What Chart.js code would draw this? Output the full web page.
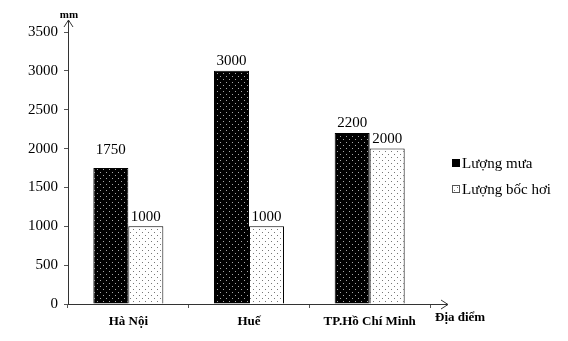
<!DOCTYPE html>
<html><head><meta charset="utf-8">
<script src="https://cdn.jsdelivr.net/npm/chart.js@4/dist/chart.umd.min.js"></script>
<style>html,body{margin:0;padding:0;background:#fff}#wrap{width:568px;height:341px}</style>
</head><body><div id="wrap"><canvas id="c" width="568" height="341"></canvas></div>
<script>
const categories = ["Hà Nội", "Huế", "TP.Hồ Chí Minh"];
const rainfall = [1750, 3000, 2200];
const evaporation = [1000, 1000, 2000];
const seriesNames = ["Lượng mưa", "Lượng bốc hơi"];
const yTicks = [0, 500, 1000, 1500, 2000, 2500, 3000, 3500];
const yUnit = "mm";
const xTitle = "Địa điểm";

function makePattern(bg, dot) {
  const p = document.createElement('canvas');
  p.width = 6; p.height = 6;
  const g = p.getContext('2d');
  g.fillStyle = bg; g.fillRect(0, 0, 6, 6);
  g.fillStyle = dot;
  g.fillRect(1, 1, 1, 1);
  g.fillRect(4, 4, 1, 1);
  return g.createPattern(p, 'repeat');
}
const ctx0 = document.getElementById('c').getContext('2d');
const blackPat = makePattern('#000', '#a8a8a8');
const whitePat = makePattern('#fff', '#777');
const FONT = "'Liberation Serif', 'Times New Roman', serif";

const decor = {
  id: 'decor',
  afterDraw(chart) {
    const c = chart.ctx, a = chart.chartArea;
    c.save();
    c.strokeStyle = '#333'; c.lineWidth = 1;
    c.beginPath(); c.moveTo(a.left + 0.5, a.top); c.lineTo(a.left + 0.5, 20); c.stroke();
    c.beginPath(); c.moveTo(a.left - 4, 27); c.lineTo(a.left + 0.5, 20); c.lineTo(a.left + 5, 27); c.stroke();
    c.beginPath(); c.moveTo(a.right, a.bottom + 0.5); c.lineTo(448, a.bottom + 0.5); c.stroke();
    c.beginPath(); c.moveTo(441, a.bottom - 4); c.lineTo(448, a.bottom + 0.5); c.lineTo(441, a.bottom + 5); c.stroke();
    c.fillStyle = '#000';
    c.font = "bold 11px " + FONT; c.textAlign = 'center'; c.textBaseline = 'middle';
    c.fillText(yUnit, a.left + 1, 15);
    c.font = "bold 13px " + FONT; c.textAlign = 'left';
    c.fillText(xTitle, 435, 318);
    c.font = "15px " + FONT; c.textAlign = 'center'; c.textBaseline = 'bottom';
    chart.data.datasets.forEach((ds, i) => {
      chart.getDatasetMeta(i).data.forEach((bar, j) => {
        c.fillText(String(ds.data[j]), bar.x, bar.y - (i === 0 && j === 0 ? 10 : 2));
      });
    });
    c.font = "15px " + FONT; c.textAlign = 'left'; c.textBaseline = 'middle';
    const lx = 452, ly = [163, 189];
    chart.data.datasets.forEach((ds, i) => {
      c.fillStyle = i === 0 ? '#000' : ds.backgroundColor;
      c.fillRect(lx, ly[i] - 4, 8, 8);
      c.strokeStyle = i === 0 ? '#000' : '#555';
      c.strokeRect(lx + 0.5, ly[i] - 3.5, 7, 7);
      c.fillStyle = '#000';
      c.fillText(ds.label, lx + 10, ly[i] + 1);
    });
    c.restore();
  }
};

new Chart(ctx0, {
  type: 'bar',
  data: {
    labels: categories,
    datasets: [
      { label: seriesNames[0], data: rainfall, backgroundColor: blackPat, borderColor: '#000', borderWidth: 1 },
      { label: seriesNames[1], data: evaporation, backgroundColor: whitePat, borderColor: '#000', borderWidth: 1 }
    ]
  },
  options: {
    responsive: false,
    animation: false,
    layout: { padding: { top: 32, right: 138, left: 0, bottom: 0 } },
    plugins: { legend: { display: false }, tooltip: { enabled: false } },
    datasets: { bar: { categoryPercentage: 0.58, barPercentage: 1 } },
    scales: {
      x: {
        grid: { display: true, drawOnChartArea: false, offset: true, tickLength: 4, color: '#555' },
        border: { color: '#333' },
        ticks: { color: '#000', font: { family: FONT, size: 13, weight: 'bold' }, padding: 6 },
        afterFit(s) { s.height = 37; }
      },
      y: {
        min: 0, max: 3500,
        afterBuildTicks(s) { s.ticks = yTicks.map(v => ({ value: v })); },
        grid: { display: true, drawOnChartArea: false, tickLength: 4, color: '#555' },
        border: { color: '#333' },
        ticks: { color: '#000', font: { family: FONT, size: 15 }, padding: 6, callback: v => String(v) },
        afterFit(s) { s.width = 68; }
      }
    }
  },
  plugins: [decor]
});
</script>
</body></html>
